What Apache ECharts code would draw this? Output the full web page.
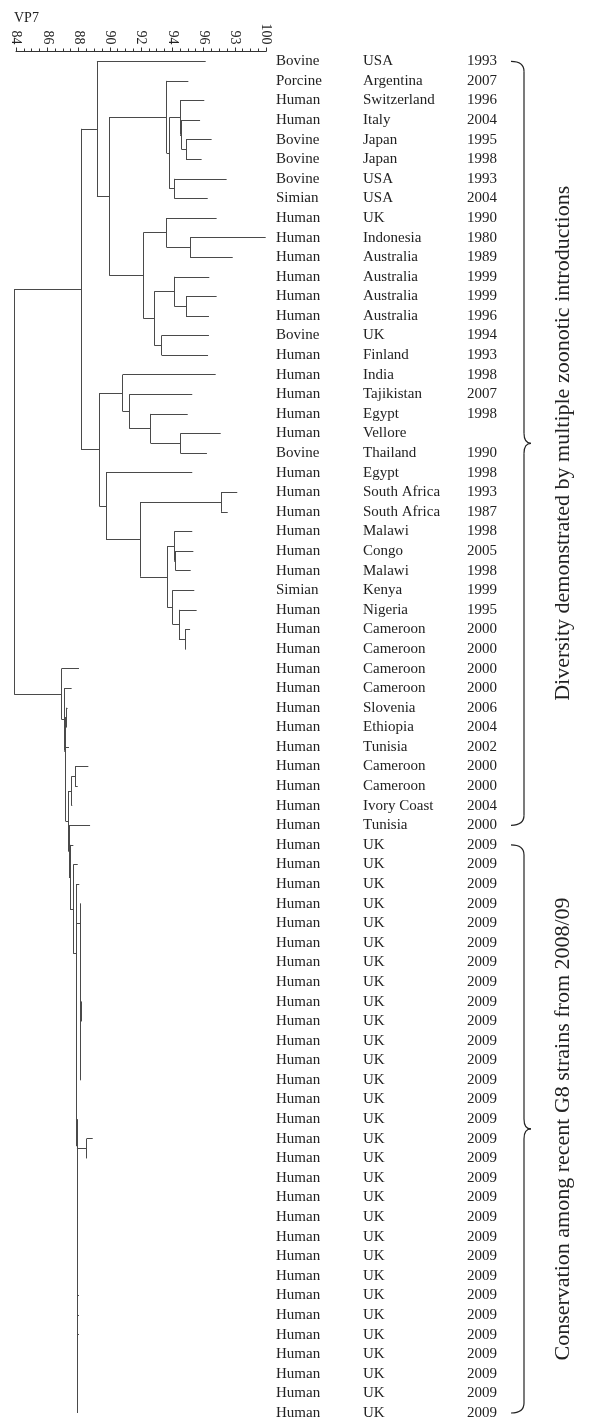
<!DOCTYPE html>
<html>
<head>
<meta charset="utf-8">
<script src="https://cdn.jsdelivr.net/npm/echarts@6/dist/echarts.min.js"></script>
<style>
html,body{margin:0;padding:0;background:#fff}
#chart{width:597px;height:1422px}
</style>
</head>
<body>
<div id="chart"></div>
<script>
var tickLabels = ['84', '86', '88', '90', '92', '94', '96', '93', '100'];

var hosts = ['Bovine', 'Porcine', 'Human', 'Human', 'Bovine', 'Bovine', 'Bovine', 'Simian', 'Human', 'Human',
  'Human', 'Human', 'Human', 'Human', 'Bovine', 'Human', 'Human', 'Human', 'Human', 'Human',
  'Bovine', 'Human', 'Human', 'Human', 'Human', 'Human', 'Human', 'Simian', 'Human', 'Human',
  'Human', 'Human', 'Human', 'Human', 'Human', 'Human', 'Human', 'Human', 'Human', 'Human',
  'Human', 'Human', 'Human', 'Human', 'Human', 'Human', 'Human', 'Human', 'Human', 'Human',
  'Human', 'Human', 'Human', 'Human', 'Human', 'Human', 'Human', 'Human', 'Human', 'Human',
  'Human', 'Human', 'Human', 'Human', 'Human', 'Human', 'Human', 'Human', 'Human', 'Human'];

var countries = ['USA', 'Argentina', 'Switzerland', 'Italy', 'Japan', 'Japan', 'USA', 'USA', 'UK', 'Indonesia',
  'Australia', 'Australia', 'Australia', 'Australia', 'UK', 'Finland', 'India', 'Tajikistan', 'Egypt', 'Vellore',
  'Thailand', 'Egypt', 'South Africa', 'South Africa', 'Malawi', 'Congo', 'Malawi', 'Kenya', 'Nigeria', 'Cameroon',
  'Cameroon', 'Cameroon', 'Cameroon', 'Slovenia', 'Ethiopia', 'Tunisia', 'Cameroon', 'Cameroon', 'Ivory Coast', 'Tunisia',
  'UK', 'UK', 'UK', 'UK', 'UK', 'UK', 'UK', 'UK', 'UK', 'UK',
  'UK', 'UK', 'UK', 'UK', 'UK', 'UK', 'UK', 'UK', 'UK', 'UK',
  'UK', 'UK', 'UK', 'UK', 'UK', 'UK', 'UK', 'UK', 'UK', 'UK'];

var years = ['1993', '2007', '1996', '2004', '1995', '1998', '1993', '2004', '1990', '1980',
  '1989', '1999', '1999', '1996', '1994', '1993', '1998', '2007', '1998', '',
  '1990', '1998', '1993', '1987', '1998', '2005', '1998', '1999', '1995', '2000',
  '2000', '2000', '2000', '2006', '2004', '2002', '2000', '2000', '2004', '2000',
  '2009', '2009', '2009', '2009', '2009', '2009', '2009', '2009', '2009', '2009',
  '2009', '2009', '2009', '2009', '2009', '2009', '2009', '2009', '2009', '2009',
  '2009', '2009', '2009', '2009', '2009', '2009', '2009', '2009', '2009', '2009'];

// similarity (%) where each leaf branch ends
var leafEnd = [96.14, 95.03, 96.05, 95.78, 96.52, 95.88, 97.48, 96.27, 96.84, 99.98,
  97.87, 96.37, 96.84, 96.35, 96.35, 96.29, 96.78, 95.28, 94.99, 97.10,
  96.22, 95.28, 98.16, 97.55, 95.28, 95.35, 95.18, 95.41, 95.56, 95.14,
  94.86, 88.03, 87.56, 87.30, 87.26, 87.39, 88.63, 87.95, 87.60, 88.74,
  87.67, 87.95, 88.05, 88.13, 88.13, 88.13, 88.13, 88.13, 88.22, 88.22,
  88.13, 88.13, 88.13, 87.90, 87.91, 88.91, 88.53, 87.93, 87.93, 87.94,
  87.94, 87.94, 87.94, 88.03, 88.03, 88.03, 87.94, 87.94, 87.94, 87.94];

// [node, child, child, similarity at which they join]
var merges = [
  ['G3', 4, 5, 94.88], ['G2', 3, 'G3', 94.60], ['G', 2, 'G2', 94.50], ['H', 6, 7, 94.13],
  ['F', 'G', 'H', 93.81], ['D', 1, 'F', 93.64],
  ['I2', 9, 10, 95.14], ['I', 8, 'I2', 93.64], ['K2', 12, 13, 94.88], ['K', 11, 'K2', 94.13],
  ['L', 14, 15, 93.32], ['J', 'K', 'L', 92.85], ['E', 'I', 'J', 92.15],
  ['C', 'D', 'E', 89.97], ['B', 0, 'C', 89.18],
  ['N4', 19, 20, 94.52], ['N3', 18, 'N4', 92.62], ['N2', 17, 'N3', 91.25], ['N', 16, 'N2', 90.83],
  ['Q', 22, 23, 97.12], ['S2', 25, 26, 94.22], ['S', 24, 'S2', 94.13],
  ['T3', 29, 30, 94.82], ['T2', 28, 'T3', 94.43], ['T', 27, 'T2', 94.03],
  ['R', 'S', 'T', 93.68], ['P', 'Q', 'R', 91.94], ['O', 21, 'P', 89.76], ['M', 'N', 'O', 89.33],
  ['A', 'B', 'M', 88.16],
  ['X4', 48, 49, 88.20], ['X8', 51, 52, 88.11], ['X7', 50, 'X8', 88.11], ['X6', 'X4', 'X7', 88.10],
  ['X5', 47, 'X6', 88.10], ['X3', 46, 'X5', 88.10], ['X2', 45, 'X3', 88.10], ['X1', 44, 'X2', 88.10],
  ['X', 43, 'X1', 88.10], ['Y', 55, 56, 88.52],
  ['W68', 68, 69, 87.93], ['W67', 67, 'W68', 87.93], ['W66', 66, 'W67', 87.93], ['W65', 65, 'W66', 87.93],
  ['W64', 64, 'W65', 87.93], ['W63', 63, 'W64', 87.93], ['W62', 62, 'W63', 87.92], ['W61', 61, 'W62', 87.92],
  ['W60', 60, 'W61', 87.92], ['W59', 59, 'W60', 87.92], ['W58', 58, 'W59', 87.92], ['W57', 57, 'W58', 87.91],
  ['WY', 'Y', 'W57', 87.90], ['W54', 54, 'WY', 87.89], ['W53', 53, 'W54', 87.88], ['WX', 'X', 'W53', 87.86],
  ['W42', 42, 'WX', 87.84], ['W41', 41, 'W42', 87.67], ['W40', 40, 'W41', 87.46],
  ['U8', 36, 37, 87.78], ['U7', 'U8', 38, 87.56], ['U9', 39, 'W40', 87.39], ['U6', 'U7', 'U9', 87.35],
  ['U4', 33, 34, 87.24], ['U5', 35, 'U6', 87.17], ['U3', 'U4', 'U5', 87.14], ['U2', 32, 'U3', 87.09],
  ['U', 31, 'U2', 86.92],
  ['root', 'A', 'U', 83.88]
];

var nodeMap = {};
merges.forEach(function (m) { nodeMap[m[0]] = m; });

function posY(c) {
  if (typeof c === 'number') return c;
  var m = nodeMap[c];
  return (posY(m[1]) + posY(m[2])) / 2;
}
function posX(c) {
  return typeof c === 'number' ? leafEnd[c] : nodeMap[c][3];
}

var segs = [];
merges.forEach(function (m) {
  var h = m[3], ya = posY(m[1]), yb = posY(m[2]);
  segs.push({coords: [[h, ya], [h, yb]]});
  segs.push({coords: [[h, ya], [posX(m[1]), ya]]});
  segs.push({coords: [[h, yb], [posX(m[2]), yb]]});
});

var serif = '"Liberation Serif", "DejaVu Serif", serif';
var chart = echarts.init(document.getElementById('chart'), null, {renderer: 'canvas'});

var option = {
  animation: false,
  backgroundColor: '#fff',
  title: {
    text: 'VP7', left: 9, top: 6,
    textStyle: {fontFamily: serif, fontSize: 14, fontWeight: 'normal', color: '#222'}
  },
  grid: {left: 16, width: 250, top: 51.5, height: 1361.5, containLabel: false},
  xAxis: {
    type: 'value', position: 'top',
    min: 84, max: 100, interval: 2,
    axisLine: {show: true, onZero: false, lineStyle: {color: '#333', width: 1}},
    axisTick: {show: true, length: 4, lineStyle: {color: '#333'}},
    minorTick: {show: true, splitNumber: 4, length: 3, lineStyle: {color: '#333'}},
    splitLine: {show: false},
    axisLabel: {
      rotate: 90, margin: 7, fontSize: 14, fontFamily: serif, color: '#222',
      formatter: function (v) { return tickLabels[Math.round((v - 84) / 2)]; }
    }
  },
  yAxis: {type: 'value', min: -0.5, max: 69, inverse: true, show: false},
  series: [
    {
      type: 'lines',
      coordinateSystem: 'cartesian2d',
      polyline: false,
      clip: false,
      silent: true,
      lineStyle: {color: '#4a4a4a', width: 1, opacity: 1},
      data: segs
    },
    {
      type: 'custom',
      silent: true,
      data: hosts.map(function (h, i) { return [100, i]; }),
      renderItem: function (params, api) {
        var i = params.dataIndex;
        var p = api.coord([100, api.value(1)]);
        var st = function (t, dx) {
          return {
            type: 'text', x: p[0] + dx, y: p[1],
            style: {
              text: t, font: '15px ' + serif, fill: '#222',
              textAlign: 'left', textVerticalAlign: 'middle', align: 'left', verticalAlign: 'middle'
            }
          };
        };
        return {type: 'group', children: [st(hosts[i], 10), st(countries[i], 97), st(years[i], 201)]};
      }
    }
  ]
};
chart.setOption(option);

// brace annotations for the two groups of rows
function rowY(i) { return chart.convertToPixel({gridIndex: 0}, [100, i])[1]; }
var braceStyle = {stroke: '#222', fill: null, lineWidth: 1.2};
function brace(y1, y2) {
  var x0 = 511, xv = 524, xp = 531, r = 10, ym = (y1 + y2) / 2;
  var curve = function (ax, ay, bx, by, cx, cy) {
    return {type: 'bezierCurve', silent: true, shape: {x1: ax, y1: ay, x2: bx, y2: by, cpx1: cx, cpy1: cy}, style: braceStyle};
  };
  var line = function (ax, ay, bx, by) {
    return {type: 'line', silent: true, shape: {x1: ax, y1: ay, x2: bx, y2: by}, style: braceStyle};
  };
  return [
    curve(x0, y1, xv, y1 + r, xv, y1),
    line(xv, y1 + r, xv, ym - r),
    curve(xv, ym - r, xp, ym, xv, ym),
    curve(xp, ym, xv, ym + r, xv, ym),
    line(xv, ym + r, xv, y2 - r),
    curve(xv, y2 - r, x0, y2, xv, y2)
  ];
}
var groups = [
  {from: 0, to: 39, text: 'Diversity demonstrated by multiple zoonotic introductions'},
  {from: 40, to: 69, text: 'Conservation among recent G8 strains from 2008/09'}
];
var gfx = [];
groups.forEach(function (g) {
  var y1 = rowY(g.from), y2 = rowY(g.to);
  gfx = gfx.concat(brace(y1, y2));
  gfx.push({
    type: 'text', x: 563, y: (y1 + y2) / 2, rotation: Math.PI / 2, silent: true,
    style: {text: g.text, font: '22px ' + serif, fill: '#222', textAlign: 'center', textVerticalAlign: 'middle', align: 'center', verticalAlign: 'middle'}
  });
});
chart.setOption({graphic: gfx});
</script>
</body>
</html>
